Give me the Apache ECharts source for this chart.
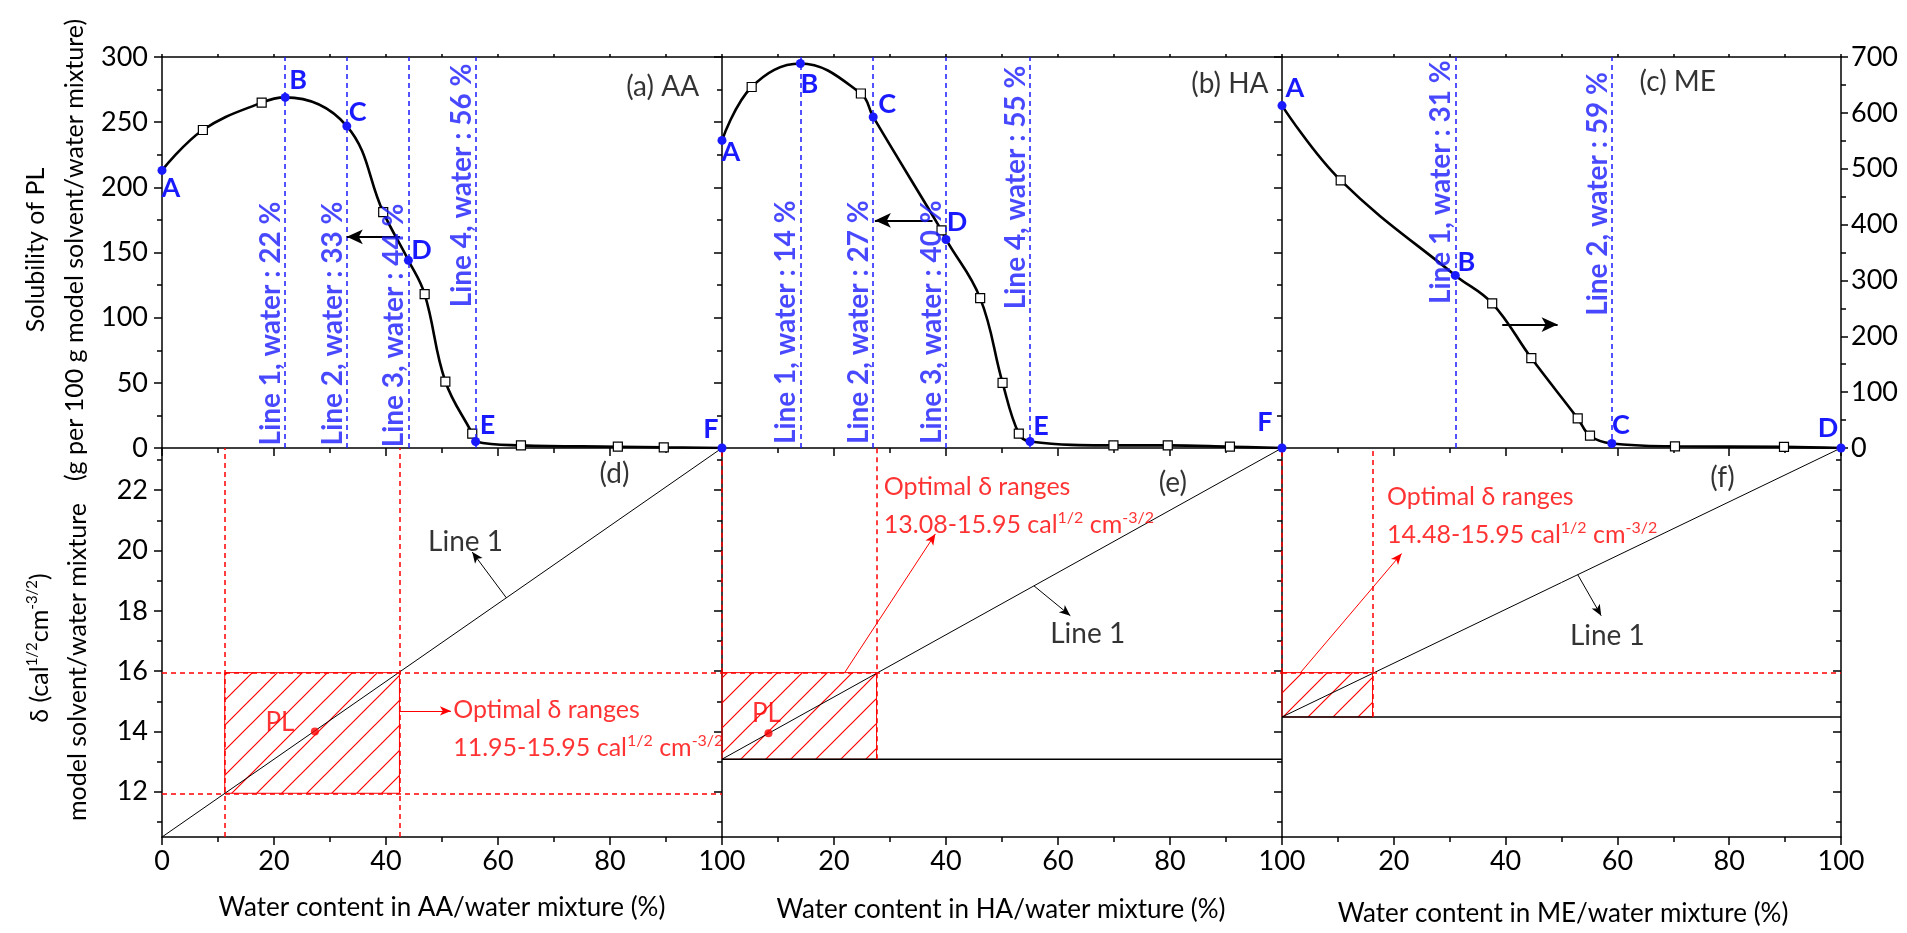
<!DOCTYPE html>
<html>
<head>
<meta charset="utf-8">
<title>Solubility of PL and optimal solubility parameter ranges</title>
<script src="https://cdn.jsdelivr.net/npm/echarts@6/dist/echarts.min.js"></script>
<style>
  html, body { margin: 0; padding: 0; background: #fff; }
  #chart { width: 1907px; height: 933px; }
</style>
</head>
<body>
<div id="chart"></div>
<script>
// ---------------- data ----------------
// Solubility of PL (g per 100 g model solvent/water mixture) against water content (%)
const aaMeasured = [[7.3, 244], [17.8, 265], [39.5, 181], [46.9, 118], [50.6, 51], [55.4, 11], [64.1, 2], [81.4, 1], [89.6, 0.5]];
const aaKeyPoints = [['A', 0, 213], ['B', 22, 269], ['C', 33, 247], ['D', 44, 144], ['E', 56, 5], ['F', 100, 0]];
const aaWaterLines = [22, 33, 44, 56];

const haMeasured = [[5.3, 277], [24.8, 272], [39.2, 167], [46.1, 115], [50.1, 50], [53.0, 11], [69.9, 2], [79.6, 2], [90.7, 1]];
const haKeyPoints = [['A', 0, 236], ['B', 14, 295], ['C', 27, 254], ['D', 40, 160], ['E', 55, 5], ['F', 100, 0]];
const haWaterLines = [14, 27, 40, 55];

const meMeasured = [[10.5, 479], [37.6, 259], [44.6, 161], [52.9, 53], [55.1, 22], [70.3, 3], [89.8, 2]];
const meKeyPoints = [['A', 0, 613], ['B', 31, 309], ['C', 59, 8], ['D', 100, 0]];
const meWaterLines = [31, 59];

// Solubility parameter delta (cal^1/2 cm^-3/2) of the solvent/water mixtures
const deltaWater = 23.4;
const deltaAA = 10.5;
const deltaHA = 13.08;
const deltaME = 14.48;
const optimalDeltaAA = [11.95, 15.95];
const optimalDeltaHA = [13.08, 15.95];
const optimalDeltaME = [14.48, 15.95];
const optimalWaterAA = [11.2, 42.4];
const optimalWaterHA = [0, 27.6];
const optimalWaterME = [0, 16.2];
const plPointAA = [27.3, 14.0];
const plPointHA = [8.3, 13.94];

// tick labels
const waterTicks = [0, 20, 40, 60, 80, 100];
const solubilityTicks = [0, 50, 100, 150, 200, 250, 300];
const solubilityTicksME = [0, 100, 200, 300, 400, 500, 600, 700];
const deltaTicks = [12, 14, 16, 18, 20, 22];
const deltaMinorTicks = [11, 13, 15, 17, 19, 21, 23];

// ---------------- styling ----------------
const FONT = 'Lato';
const BLUE = '#1a1aff';
const RED = '#ff0000';

const axisLine = { show: true, onZero: false, lineStyle: { color: '#000', width: 1.5 } };
function tick(len, inside, values) {
  const t = { show: true, inside: !!inside, length: len, lineStyle: { color: '#000', width: 1.5 } };
  if (values) t.customValues = values;
  return t;
}
const minor = { show: true, splitNumber: 2, length: 5, lineStyle: { color: '#000', width: 1.5 } };
const tickFont = { fontFamily: FONT, fontSize: 27, color: '#000' };
const noSplit = { show: false };

// diagonal hatch used for the optimal ranges
function hatchCanvas() {
  const s = 25;
  const c = document.createElement('canvas');
  c.width = s; c.height = s;
  const g = c.getContext('2d');
  g.strokeStyle = RED;
  g.lineWidth = 1.2;
  g.beginPath();
  g.moveTo(0, s); g.lineTo(s, 0);
  g.moveTo(-s / 2, s / 2); g.lineTo(s / 2, -s / 2);
  g.moveTo(s / 2, s * 1.5); g.lineTo(s * 1.5, s / 2);
  g.stroke();
  return c;
}
const hatch = { image: hatchCanvas(), repeat: 'repeat' };

// ---------------- layout ----------------
const grid = [
  { left: 162, top: 57, width: 560, height: 391 },
  { left: 722, top: 57, width: 560, height: 391 },
  { left: 1282, top: 57, width: 559, height: 391 },
  { left: 162, top: 448, width: 560, height: 389 },
  { left: 722, top: 448, width: 560, height: 389 },
  { left: 1282, top: 448, width: 559, height: 389 }
];

const xAxis = [];
[0, 1, 2].forEach(g => xAxis.push({
  type: 'value', gridIndex: g, min: 0, max: 100, interval: 20, position: 'bottom',
  axisLine, axisTick: tick(8), minorTick: minor, axisLabel: { show: false }, splitLine: noSplit
}));
[0, 1, 2].forEach(g => xAxis.push({
  type: 'value', gridIndex: g, min: 0, max: 100, interval: 10, position: 'top',
  axisLine, axisTick: tick(3), axisLabel: { show: false }, splitLine: noSplit
}));
[3, 4, 5].forEach((g, i) => xAxis.push({
  type: 'value', gridIndex: g, min: 0, max: 100, interval: 20, position: 'bottom',
  axisLine, axisTick: tick(8), minorTick: minor, splitLine: noSplit,
  axisLabel: Object.assign({ margin: 11, customValues: i === 0 ? waterTicks : waterTicks.slice(1) }, tickFont)
}));

function solY(g, labels) {
  return {
    type: 'value', gridIndex: g, min: 0, max: 300, interval: 50, position: 'left',
    axisLine, axisTick: tick(8), minorTick: minor, splitLine: noSplit,
    axisLabel: labels ? Object.assign({ margin: 14, customValues: solubilityTicks }, tickFont) : { show: false }
  };
}
function deltaY(g, pos, isMinor, inside, labels) {
  return {
    type: 'value', gridIndex: g, min: deltaAA, max: deltaWater, position: pos,
    axisLine: isMinor ? { show: false, onZero: false } : axisLine,
    axisTick: tick(isMinor ? 5 : 8, inside, isMinor ? deltaMinorTicks : deltaTicks),
    splitLine: noSplit,
    axisLabel: labels ? Object.assign({ margin: 14, customValues: deltaTicks }, tickFont) : { show: false }
  };
}
const yAxis = [
  solY(0, true),                       // 0
  solY(1, false),                      // 1
  solY(2, false),                      // 2
  {                                    // 3: right axis of panel (c)
    type: 'value', gridIndex: 2, min: 0, max: 700, interval: 100, position: 'right',
    axisLine, axisTick: tick(7), minorTick: minor, splitLine: noSplit,
    axisLabel: Object.assign({ margin: 10, customValues: solubilityTicksME }, tickFont)
  },
  deltaY(3, 'left', false, false, true),   // 4
  deltaY(3, 'left', true, false, false),   // 5
  deltaY(4, 'left', false, false, false),  // 6
  deltaY(4, 'left', true, false, false),   // 7
  deltaY(5, 'left', false, false, false),  // 8
  deltaY(5, 'left', true, false, false),   // 9
  deltaY(5, 'right', false, true, false),  // 10
  deltaY(5, 'right', true, true, false)    // 11
];

// ---------------- series helpers ----------------
function curveData(keys, measured) {
  return keys.map(k => [k[1], k[2]]).concat(measured).sort((a, b) => a[0] - b[0]);
}
function textItem(x, y, text, label) {
  return { value: [x, y], label: Object.assign({ show: true, formatter: text }, label) };
}
function textSeries(xi, yi, items) {
  return {
    type: 'scatter', xAxisIndex: xi, yAxisIndex: yi, symbolSize: 0, silent: true, z: 12,
    itemStyle: { color: 'transparent' }, label: { show: true, position: 'inside' }, data: items
  };
}
function arrowSeries(xi, yi, pairs, color, width, size) {
  return {
    type: 'line', xAxisIndex: xi, yAxisIndex: yi, data: [], silent: true, z: 8,
    markLine: {
      silent: true, animation: false, label: { show: false }, symbol: ['none', 'arrow'], symbolSize: size,
      lineStyle: { color, width, type: 'solid' },
      data: pairs.map(p => [{ coord: p[0] }, { coord: p[1] }])
    }
  };
}
const blueBold = { color: BLUE, fontFamily: FONT, fontWeight: 'bold', fontSize: 28 };
const blackText = { color: '#000', fontFamily: FONT, fontSize: 28, align: 'center', verticalAlign: 'middle' };
const redText = { color: RED, fontFamily: FONT, fontSize: 25, align: 'left', verticalAlign: 'middle' };

function solubilityPanel(p) {
  const xi = p.xi, yi = p.yi;
  const lineTexts = p.waterLines.map((v, i) => textItem(v, p.lineTextY[i], `Line ${i + 1}, water : ${v} %`,
    Object.assign({ rotate: 90, align: p.lineTextTop[i] ? 'right' : 'left', verticalAlign: 'bottom' }, blueBold)));
  return [
    {
      type: 'line', xAxisIndex: xi, yAxisIndex: yi, data: curveData(p.keys, p.measured),
      smooth: 0.4, symbol: 'none', silent: true, z: 3,
      lineStyle: { color: '#000', width: 2.6 },
      markLine: {
        silent: true, animation: false, symbol: 'none', label: { show: false },
        lineStyle: { color: BLUE, width: 1.5, type: [5, 4] },
        data: p.waterLines.map(v => ({ xAxis: v }))
      }
    },
    {
      type: 'scatter', xAxisIndex: xi, yAxisIndex: yi, data: p.measured, symbol: 'rect', symbolSize: 9,
      silent: true, z: 4, itemStyle: { color: '#fff', borderColor: '#000', borderWidth: 1.2, opacity: 1 }
    },
    {
      type: 'scatter', xAxisIndex: xi, yAxisIndex: yi, symbol: 'circle', symbolSize: 9, silent: true, z: 6,
      itemStyle: { color: BLUE, opacity: 1 },
      label: { show: true, position: 'inside', color: BLUE, fontFamily: FONT, fontWeight: 'bold', fontSize: 27, align: 'center', verticalAlign: 'middle' },
      data: p.keys.map((k, i) => ({ value: [k[1], k[2]], label: { formatter: k[0], offset: p.keyOffsets[i] } }))
    },
    arrowSeries(xi, yi, [p.arrow], '#000', 2, [11, 16]),
    textSeries(xi, p.textYi, lineTexts.concat([textItem(p.title[0], p.title[1], p.title[2], blackText)]))
  ];
}

function rangeLabel(r) {
  return `{tx|${r[0].toFixed(2)}-${r[1].toFixed(2)} cal}{sp|1/2}{tx| cm}{sp|-3/2}`;
}
const rangeRich = {
  tx: { fontFamily: FONT, fontSize: 25, color: RED, lineHeight: 30 },
  sp: { fontFamily: FONT, fontSize: 16, color: RED, verticalAlign: 'top' }
};

function deltaPanel(p) {
  const xi = p.xi, yi = p.yi;
  const series = [
    {
      type: 'line', xAxisIndex: xi, yAxisIndex: yi, data: [[0, p.start], [100, deltaWater]],
      symbol: 'none', silent: true, z: 3, lineStyle: { color: '#000', width: 1 }
    },
    {
      type: 'line', xAxisIndex: xi, yAxisIndex: yi, data: [], silent: true, z: 2,
      markArea: {
        silent: true, animation: false, label: { show: false },
        itemStyle: { color: hatch, borderColor: RED, borderWidth: 1 },
        data: [[{ coord: [p.water[0], p.range[0]] }, { coord: [p.water[1], p.range[1]] }]]
      },
      markLine: {
        silent: true, animation: false, symbol: 'none', label: { show: false },
        lineStyle: { color: RED, width: 1.5, type: [5, 4] },
        data: p.dashed
      }
    },
    arrowSeries(xi, yi, [p.lineArrow], '#000', 1, [7, 11]),
    arrowSeries(xi, yi, [p.rangeArrow], RED, 1, [7, 11]),
    textSeries(xi, yi, [
      textItem(p.lineText[0], p.lineText[1], 'Line 1', blackText),
      textItem(p.rangeText[0], p.rangeText[1], 'Optimal δ ranges', redText),
      textItem(p.rangeText[0], p.rangeText[2], rangeLabel(p.range), Object.assign({}, redText, { rich: rangeRich })),
      textItem(p.tag[0], p.tag[1], p.tag[2], blackText)
    ])
  ];
  if (p.hline) {
    series.push({
      type: 'line', xAxisIndex: xi, yAxisIndex: yi, data: [[0, p.start], [100, p.start]],
      symbol: 'none', silent: true, z: 3, lineStyle: { color: '#000', width: 1.5 }
    });
  }
  if (p.pl) {
    series.push({
      type: 'scatter', xAxisIndex: xi, yAxisIndex: yi, data: [p.pl], symbol: 'circle', symbolSize: 8,
      silent: true, z: 7, itemStyle: { color: RED },
      label: { show: true, formatter: 'PL', position: 'inside', offset: p.plOffset, color: RED, fontFamily: FONT, fontSize: 26, align: 'center', verticalAlign: 'middle' }
    });
  }
  return series;
}

const series = [].concat(
  solubilityPanel({
    xi: 0, yi: 0, textYi: 0, measured: aaMeasured, keys: aaKeyPoints, waterLines: aaWaterLines,
    keyOffsets: [[9, 18], [13, -17], [11, -14], [13, -10], [12, -16], [-11, -19]],
    lineTextY: [2, 2, 0.5, 295], lineTextTop: [false, false, false, true],
    arrow: [[42.5, 162], [33, 162]],
    title: [89.4, 277, '(a) AA']
  }),
  solubilityPanel({
    xi: 1, yi: 1, textYi: 1, measured: haMeasured, keys: haKeyPoints, waterLines: haWaterLines,
    keyOffsets: [[9, 12], [9, 21], [14, -13], [11, -17], [11, -15], [-17, -26]],
    lineTextY: [3, 3, 3, 293.5], lineTextTop: [false, false, false, true],
    arrow: [[37.6, 174.6], [27.3, 174.6]],
    title: [90.7, 279.5, '(b) HA']
  }),
  solubilityPanel({
    xi: 2, yi: 3, textYi: 2, measured: meMeasured, keys: meKeyPoints, waterLines: meWaterLines,
    keyOffsets: [[13, -17], [11, -13], [9, -18], [-13, -20]],
    lineTextY: [297.5, 288.5], lineTextTop: [true, true],
    arrow: [[39.4, 221], [49.3, 221]],
    title: [70.8, 280.8, '(c) ME']
  }),
  deltaPanel({
    xi: 6, yi: 4, start: deltaAA, range: optimalDeltaAA, water: optimalWaterAA,
    dashed: [{ xAxis: optimalWaterAA[0] }, { xAxis: optimalWaterAA[1] }, { yAxis: optimalDeltaAA[0] }, { yAxis: optimalDeltaAA[1] }],
    pl: plPointAA, plOffset: [-35, -9],
    lineArrow: [[61.5, 18.43], [55.4, 19.95]],
    rangeArrow: [[optimalWaterAA[1], 14.68], [51.6, 14.68]],
    lineText: [54.2, 20.27], rangeText: [52.0, 14.72, 13.45],
    tag: [80.8, 22.53, '(d)']
  }),
  deltaPanel({
    xi: 7, yi: 6, start: deltaHA, range: optimalDeltaHA, water: optimalWaterHA, hline: true,
    dashed: [
      [{ coord: [optimalWaterHA[0], optimalDeltaHA[1]] }, { coord: [optimalWaterHA[0], deltaWater] }],
      [{ coord: [optimalWaterHA[1], optimalDeltaHA[0]] }, { coord: [optimalWaterHA[1], deltaWater] }],
      { yAxis: optimalDeltaHA[1] }
    ],
    pl: plPointHA, plOffset: [-2, -20],
    lineArrow: [[55.7, 18.83], [62.2, 17.84]],
    rangeArrow: [[21.9, optimalDeltaHA[1]], [38.1, 20.55]],
    lineText: [65.3, 17.22], rangeText: [28.9, 22.11, 20.85],
    tag: [80.5, 22.25, '(e)']
  }),
  deltaPanel({
    xi: 8, yi: 8, start: deltaME, range: optimalDeltaME, water: optimalWaterME, hline: true,
    dashed: [
      [{ coord: [optimalWaterME[0], optimalDeltaME[1]] }, { coord: [optimalWaterME[0], deltaWater] }],
      [{ coord: [optimalWaterME[1], optimalDeltaME[0]] }, { coord: [optimalWaterME[1], deltaWater] }],
      { yAxis: optimalDeltaME[1] }
    ],
    lineArrow: [[52.9, 19.2], [57.1, 17.84]],
    rangeArrow: [[3.3, optimalDeltaME[1]], [21.4, 19.9]],
    lineText: [58.2, 17.18], rangeText: [18.8, 21.78, 20.51],
    tag: [78.8, 22.42, '(f)']
  })
);

// ---------------- axis titles ----------------
function title(x, y, text, rotated, extra) {
  return {
    type: 'text', x, y, rotation: rotated ? Math.PI / 2 : 0, silent: true,
    style: Object.assign({ text, fill: '#000', fontFamily: FONT, fontSize: 26, align: 'center', verticalAlign: 'middle' }, extra || {})
  };
}
const graphic = [
  title(442, 908, 'Water content in AA/water mixture (%)', false),
  title(1001, 910, 'Water content in HA/water mixture (%)', false),
  title(1563, 914, 'Water content in ME/water mixture (%)', false),
  title(36, 250, 'Solubility of PL', true, { fontSize: 25 }),
  title(75, 250, '(g per 100 g model solvent/water mixture)', true, { fontSize: 25 }),
  title(40, 648, '{m|δ (cal}{s|1/2}{m|cm}{s|-3/2}{m|)}', true, {
    rich: {
      m: { fontFamily: FONT, fontSize: 25, fill: '#000', lineHeight: 30 },
      s: { fontFamily: FONT, fontSize: 15, fill: '#000', verticalAlign: 'top' }
    }
  }),
  title(78, 662, 'model solvent/water mixture', true, { fontSize: 25 })
];

const chart = echarts.init(document.getElementById('chart'), null, { renderer: 'canvas' });
chart.setOption({
  animation: false,
  backgroundColor: '#fff',
  textStyle: { fontFamily: FONT },
  grid, xAxis, yAxis, series, graphic
});
</script>
</body>
</html>
